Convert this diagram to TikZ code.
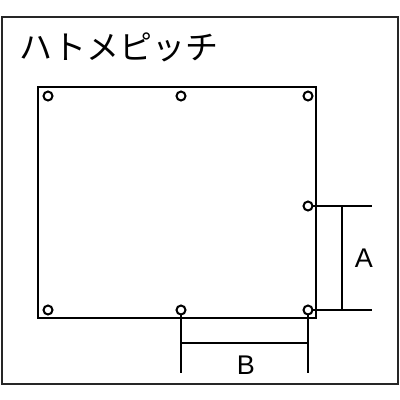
\documentclass[tikz,border=0pt]{standalone}
\usepackage{fontspec}
\setmainfont{Liberation Sans}
\newfontfamily\jpfont{Noto Sans CJK JP}
\begin{document}
\begin{tikzpicture}[x=1pt,y=-1pt,
  eyelet/.style={circle,draw,line width=2pt,minimum size=9pt,inner sep=0pt,fill=white},
  frameline/.style={line width=2.3pt},
  dimline/.style={line width=2pt},
  lbl/.style={font=\fontsize{27}{30}\selectfont,inner sep=0pt}]
\useasboundingbox (0,0) rectangle (400,400);
\draw[frameline,draw=black!85] (2,17) rectangle (398,384);
\node[anchor=west,inner sep=0pt,font=\jpfont\fontsize{33}{36}\selectfont] (title) at (19,47) {ハトメピッチ};
\draw[frameline] (38,87) rectangle (316,318);
% dimension coordinates
\coordinate (a1) at (372,206);
\coordinate (a2) at (372,310);
\coordinate (b1) at (181,373);
\coordinate (b2) at (308,373);
\coordinate (ad1) at (342,206);
\coordinate (ad2) at (342,310);
\coordinate (bd1) at (181,343);
\coordinate (bd2) at (308,343);
% dimension lines
\draw[dimline] (308,206) -- (a1);
\draw[dimline] (308,310) -- (a2);
\draw[dimline] (181,310) -- (b1);
\draw[dimline] (308,310) -- (b2);
\draw[dimline] (ad1) -- (ad2);
\draw[dimline] (bd1) -- (bd2);
% eyelets
\node[eyelet] (c1) at (48,96) {};
\node[eyelet] (c2) at (181,96) {};
\node[eyelet] (c3) at (308,96) {};
\node[eyelet] (c4) at (308,206) {};
\node[eyelet] (c5) at (48,310) {};
\node[eyelet] (c6) at (181,310) {};
\node[eyelet] (c7) at (308,310) {};
\node[lbl] (A) at (364,258) {A};
\node[lbl] (B) at (246,365) {B};
\end{tikzpicture}
\end{document}
